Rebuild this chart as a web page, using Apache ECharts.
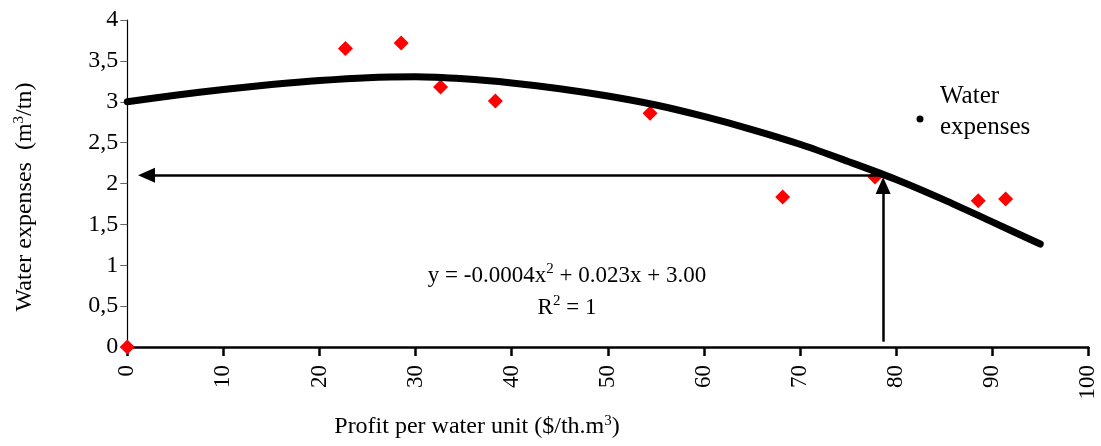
<!DOCTYPE html>
<html>
<head>
<meta charset="utf-8">
<script src="https://cdn.jsdelivr.net/npm/echarts@6/dist/echarts.min.js"></script>
<style>
html,body{margin:0;padding:0;background:#fff;}
#chart{width:1101px;height:446px;}
</style>
</head>
<body>
<div id="chart"></div>
<script>
// Observed data (red diamonds)
const observedPoints = [
  [0, 0], [22.7, 3.65], [28.5, 3.72], [32.6, 3.18], [38.3, 3.01],
  [54.4, 2.86], [68.2, 1.835], [77.8, 2.08], [88.55, 1.79], [91.4, 1.81]
];
// Trend curve
const curvePoints = [
  [0, 3.00], [5, 3.08], [10, 3.15], [15, 3.21], [20, 3.26], [25, 3.295],
  [30, 3.305], [35, 3.28], [40, 3.23], [45, 3.16], [50, 3.07], [55, 2.96],
  [60, 2.82], [65, 2.66], [70, 2.48], [75, 2.27], [80, 2.05], [85, 1.80],
  [90, 1.53], [95, 1.26]
];
// Arrows reading off the value (end = centre of arrowhead)
const arrowHorizontal = [[78.65, 2.10], [2.0, 2.10]];
const arrowVertical = [[78.65, 0.065], [78.65, 1.975]];
const xTicks = { min: 0, max: 100, step: 10 };
const yTicks = { min: 0, max: 4, step: 0.5 };
const seriesName = 'Water expenses';
const equationText = 'y = -0.0004x{sup|2} + 0.023x + 3.00';
const r2Text = 'R{sup|2} = 1';

const FONT = '"Liberation Serif", "Times New Roman", serif';
const chart = echarts.init(document.getElementById('chart'));

const supRich = {
  sup: { fontSize: 15, fontFamily: FONT, verticalAlign: 'top', lineHeight: 26, fill: '#000' },
  n: { fontSize: 24, fontFamily: FONT, lineHeight: 26, fill: '#000' }
};
const eqRich = {
  sup: { fontSize: 15, fontFamily: FONT, verticalAlign: 'top', lineHeight: 28, fill: '#000' },
  n: { fontSize: 23, fontFamily: FONT, lineHeight: 28, fill: '#000' }
};

chart.setOption({
  animation: false,
  backgroundColor: '#fff',
  grid: { left: 127.3, right: 12.7, top: 20, bottom: 99, containLabel: false, outerBoundsMode: 'none' },
  xAxis: {
    type: 'value', min: xTicks.min, max: xTicks.max, interval: xTicks.step,
    splitLine: { show: false },
    axisLine: { show: true, onZero: false, lineStyle: { color: '#000', width: 2.5 } },
    axisTick: { show: true, length: 9, lineStyle: { color: '#000', width: 2.5 } },
    axisLabel: { rotate: 90, margin: 18, fontFamily: FONT, fontSize: 23, color: '#000' }
  },
  yAxis: {
    type: 'value', min: yTicks.min, max: yTicks.max, interval: yTicks.step,
    splitLine: { show: false },
    axisLine: { show: true, onZero: false, lineStyle: { color: '#000', width: 1.2 } },
    axisTick: { show: true, length: 7, lineStyle: { color: '#666', width: 1 } },
    axisLabel: {
      margin: 9, fontFamily: FONT, fontSize: 24, color: '#000',
      formatter: v => String(v).replace('.', ',')
    }
  },
  series: [
    {
      name: 'observed', type: 'scatter', data: observedPoints, clip: false,
      symbol: 'diamond', symbolSize: 15, itemStyle: { color: '#ff0000', opacity: 1 }, z: 2
    },
    {
      name: seriesName, type: 'line', data: curvePoints, smooth: 0.3,
      showSymbol: false, symbol: 'none', z: 4,
      lineStyle: { color: '#000', width: 7, cap: 'round' }, itemStyle: { color: '#000' }
    },
    {
      name: 'arrows', type: 'line', data: [], z: 5,
      markLine: {
        silent: true, animation: false,
        symbol: ['none', 'triangle'], symbolSize: [15, 17],
        label: { show: false },
        lineStyle: { color: '#000', width: 2.5, type: 'solid', opacity: 1 },
        itemStyle: { color: '#000' },
        data: [
          [{ coord: arrowHorizontal[0] }, { coord: arrowHorizontal[1] }],
          [{ coord: arrowVertical[0] }, { coord: arrowVertical[1] }]
        ]
      }
    }
  ],
  graphic: [
    {
      type: 'text', x: 567, y: 276, z: 10,
      style: { text: '{n|' + equationText.replace('{sup|2}', '}{sup|2}{n|') + '}', align: 'center', verticalAlign: 'middle',
        font: '23px ' + FONT, fill: '#000', rich: eqRich }
    },
    {
      type: 'text', x: 567, y: 308, z: 10,
      style: { text: '{n|' + r2Text.replace('{sup|2}', '}{sup|2}{n|') + '}', align: 'center', verticalAlign: 'middle',
        font: '23px ' + FONT, fill: '#000', rich: eqRich }
    },
    {
      type: 'text', x: 477, y: 427, z: 10,
      style: { text: '{n|Profit per water unit ($/th.m}{sup|3}{n|)}', align: 'center', verticalAlign: 'middle',
        font: '24px ' + FONT, fill: '#000', rich: supRich }
    },
    {
      type: 'text', x: 25, y: 197, rotation: Math.PI / 2, z: 10,
      style: { text: '{n|Water expenses  (m}{sup|3}{n|/tn)}', align: 'center', verticalAlign: 'middle',
        font: '24px ' + FONT, fill: '#000', rich: supRich }
    },
    {
      type: 'circle', shape: { cx: 920, cy: 119, r: 3.5 }, style: { fill: '#000' }, z: 10
    },
    {
      type: 'text', x: 940, y: 112, z: 10,
      style: { text: 'Water\nexpenses', align: 'left', verticalAlign: 'middle',
        font: '25px ' + FONT, fill: '#000', lineHeight: 31 }
    }
  ]
});
</script>
</body>
</html>
